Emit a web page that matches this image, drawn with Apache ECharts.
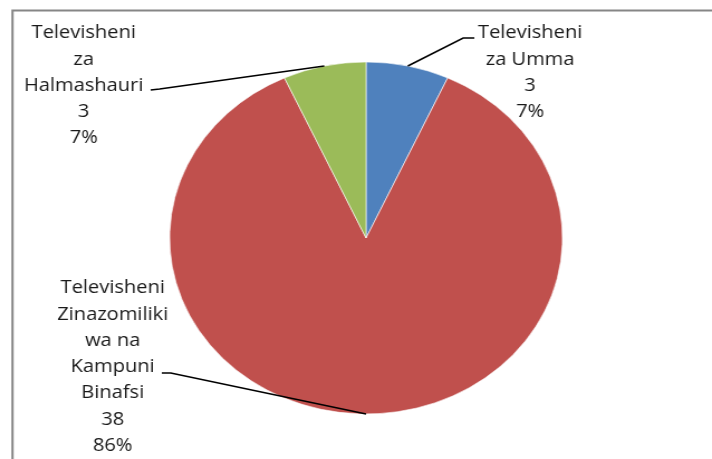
<!DOCTYPE html>
<html>
<head>
<meta charset="utf-8">
<script src="https://cdn.jsdelivr.net/npm/echarts@6/dist/echarts.min.js"></script>
<style>
    html, body { margin: 0; padding: 0; background: #fff; overflow: hidden; }
    #wrap { width: 712px; height: 459px; overflow: hidden; }
    /* the source picture is stretched sideways, so stretch the chart the same way */
    #chart { width: 638px; height: 459px; transform: scaleX(1.116); transform-origin: 0 0; }
</style>
</head>
<body>
<div id="wrap"><div id="chart"></div></div>
<script>
const categories = [
    'Televisheni\nza Umma',
    'Televisheni\nZinazomiliki\nwa na\nKampuni\nBinafsi',
    'Televisheni\nza\nHalmashauri'
];
const values = [3, 38, 3];
const colors = ['#4F81BD', '#C0504D', '#9BBB59'];

// where each label block sits (centre x, top y) and where its leader line meets it
const labelSpots = [
    {x: 475, y: 20, bend: [-60, 18], end: [-50, 18]},
    {x: 101, y: 275, bend: [52, 98], end: [44, 98]},
    {x: 75, y: 20, bend: [68, 69], end: [60, 70]}
];

const pieCenter = [328, 238];
const pieRadius = 176;

const chart = echarts.init(document.getElementById('chart'));

const baseSeries = {
    type: 'pie',
    center: pieCenter,
    radius: pieRadius,
    startAngle: 90,
    clockwise: true,
    avoidLabelOverlap: false,
    percentPrecision: 0,
    emphasis: {disabled: true}
};

chart.setOption({
    animation: false,
    backgroundColor: '#fff',
    graphic: [{
        type: 'rect',
        z: -1,
        shape: {x: 11.2, y: 10.5, width: 1000, height: 1000},
        style: {fill: 'none', stroke: '#868686', lineWidth: 2}
    }],
    series: [
        // the slices
        Object.assign({}, baseSeries, {
            z: 2,
            data: categories.map((name, i) => ({
                name: name,
                value: values[i],
                itemStyle: {color: colors[i]}
            })),
            itemStyle: {borderColor: '#fff', borderWidth: 0.6},
            label: {show: false},
            labelLine: {show: false}
        }),
        // same data again, only labels + leader lines, so the lines sit over the slices
        Object.assign({}, baseSeries, {
            z: 5,
            silent: true,
            data: categories.map((name, i) => ({name: name, value: values[i]})),
            itemStyle: {color: 'rgba(0,0,0,0)', borderWidth: 0},
            label: {
                formatter: '{b}\n{c}\n{d}%',
                fontFamily: 'Open Sans',
                fontSize: 18,
                lineHeight: 26.3,
                color: '#1a1a1a',
                align: 'center'
            },
            labelLine: {
                show: true,
                lineStyle: {color: '#000', width: 1.5}
            },
            labelLayout: function (params) {
                const spot = labelSpots[params.dataIndex];
                const pts = params.labelLinePoints;
                const out = {
                    x: spot.x,
                    y: spot.y,
                    align: 'center',
                    verticalAlign: 'top'
                };
                if (pts) {
                    out.labelLinePoints = [
                        pts[0],
                        [spot.x + spot.bend[0], spot.y + spot.bend[1]],
                        [spot.x + spot.end[0], spot.y + spot.end[1]]
                    ];
                }
                return out;
            }
        })
    ]
});
</script>
</body>
</html>
